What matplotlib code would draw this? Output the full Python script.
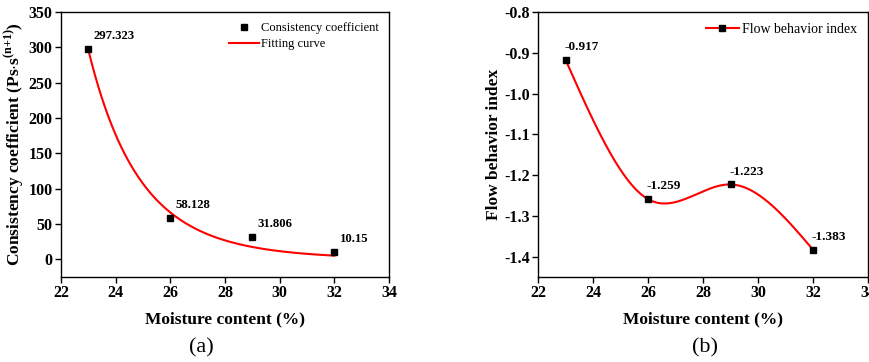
import numpy as np
import matplotlib
matplotlib.use("Agg")
import matplotlib.pyplot as plt
from matplotlib.lines import Line2D

plt.rcParams['font.family'] = ['Liberation Serif', 'DejaVu Serif']
plt.rcParams['mathtext.fontset'] = 'custom'
plt.rcParams['mathtext.rm'] = 'Liberation Serif'
plt.rcParams['mathtext.bf'] = 'Liberation Serif:bold'

moisture = [23, 26, 29, 32]
consistency = [297.323, 58.128, 31.806, 10.15]
flow_index = [-0.917, -1.259, -1.223, -1.383]
consistency_labels = ["297.323", "58.128", "31.806", "10.15"]
flow_labels = ["-0.917", "-1.259", "-1.223", "-1.383"]


def power_fit(x, y):
    """Least-squares fit of y = a * x**b."""
    x = np.asarray(x, float)
    y = np.asarray(y, float)
    best = None
    for b in np.linspace(-20, -1, 4000):
        basis = x ** b
        a = np.dot(basis, y) / np.dot(basis, basis)
        res = np.sum((a * basis - y) ** 2)
        if best is None or res < best[0]:
            best = (res, a, b)
    _, a, b = best
    return lambda t: a * np.asarray(t, float) ** b


def natural_spline(x, y):
    x = np.asarray(x, float)
    y = np.asarray(y, float)
    n = len(x)
    h = np.diff(x)
    A = np.zeros((n, n))
    r = np.zeros(n)
    A[0, 0] = A[-1, -1] = 1
    for i in range(1, n - 1):
        A[i, i - 1] = h[i - 1]
        A[i, i] = 2 * (h[i - 1] + h[i])
        A[i, i + 1] = h[i]
        r[i] = 6 * ((y[i + 1] - y[i]) / h[i] - (y[i] - y[i - 1]) / h[i - 1])
    m = np.linalg.solve(A, r)

    def f(t):
        t = np.asarray(t, float)
        i = np.clip(np.searchsorted(x, t) - 1, 0, n - 2)
        dx = t - x[i]
        hi = h[i]
        a = (m[i + 1] - m[i]) / (6 * hi)
        b = m[i] / 2
        c = (y[i + 1] - y[i]) / hi - hi * (2 * m[i] + m[i + 1]) / 6
        return y[i] + c * dx + b * dx ** 2 + a * dx ** 3
    return f


fig = plt.figure(figsize=(8.7, 3.62), dpi=100)
ax1 = fig.add_axes([0.0701, 0.2348, 0.3770, 0.7321])
ax2 = fig.add_axes([0.6184, 0.2348, 0.3793, 0.7321])

label_font = dict(fontsize=12.5, fontweight='bold')

xs = np.linspace(moisture[0], moisture[-1], 300)

# (a) consistency coefficient with power-law fit
fit = power_fit(moisture, consistency)
ax1.plot(xs, fit(xs), color='red', lw=1.5, zorder=2)
ax1.plot(moisture, consistency, 's', color='black', ms=5, zorder=3)
for xv, yv, lab in zip(moisture, consistency, consistency_labels):
    ax1.annotate(lab, (xv, yv), xytext=(4, 5), textcoords='offset points',
                 ha='left', va='bottom', fontsize=9.2, fontweight='bold')
ax1.set_xlim(22, 34)
ax1.set_ylim(-25, 350)
ax1.set_xticks(np.arange(22, 35, 2))
ax1.set_yticks(np.arange(0, 351, 50))
ax1.set_xlabel('Moisture content (%)', labelpad=7, **label_font)
ax1.set_ylabel(r'Consistency coefficient (Ps$\cdot$s$^{\mathbf{(n{+}1)}}$)', labelpad=1, **label_font)
handles = [Line2D([], [], ls='none', marker='s', color='black', ms=5),
           Line2D([], [], color='red', lw=1.5)]
ax1.legend(handles, ['Consistency coefficient', 'Fitting curve'], loc='upper right',
           frameon=False, fontsize=9, handlelength=2.4, handletextpad=0.2,
           labelspacing=0.35, borderaxespad=0.4)

# (b) flow behavior index with smooth spline
spl = natural_spline(moisture, flow_index)
ax2.plot(xs, spl(xs), color='red', lw=1.5, zorder=2)
ax2.plot(moisture, flow_index, 's', color='black', ms=5, zorder=3)
for xv, yv, lab in zip(moisture, flow_index, flow_labels):
    ax2.annotate(lab, (xv, yv), xytext=(-1, 5), textcoords='offset points',
                 ha='left', va='bottom', fontsize=9.5, fontweight='bold')
ax2.set_xlim(22, 34)
ax2.set_ylim(-1.45, -0.8)
ax2.set_xticks(np.arange(22, 35, 2))
yt = np.round(np.arange(-1.4, -0.79, 0.1), 1)
ax2.set_yticks(yt)
ax2.set_yticklabels([f'{v:.1f}' for v in yt])
ax2.set_xlabel('Moisture content (%)', labelpad=7, **label_font)
ax2.set_ylabel('Flow behavior index', labelpad=1.5, **label_font)
ax2.legend([Line2D([], [], color='red', lw=1.5, marker='s', mfc='black', mec='black', ms=5)],
           ['Flow behavior index'], loc='upper right', frameon=False, fontsize=10,
           handlelength=2.4, handletextpad=0.2, borderaxespad=0.4)

for ax in (ax1, ax2):
    ax.tick_params(direction='out', length=4, width=1, top=False, right=False, pad=2)
    for t in ax.get_xticklabels() + ax.get_yticklabels():
        t.set_fontsize(11.5)
        t.set_fontweight('bold')
    for s in ax.spines.values():
        s.set_linewidth(1)

fig.text(0.231, 0.039, '(a)', ha='center', va='center', fontsize=16)
fig.text(0.810, 0.039, '(b)', ha='center', va='center', fontsize=16)

fig.savefig('out.png', dpi=100)
